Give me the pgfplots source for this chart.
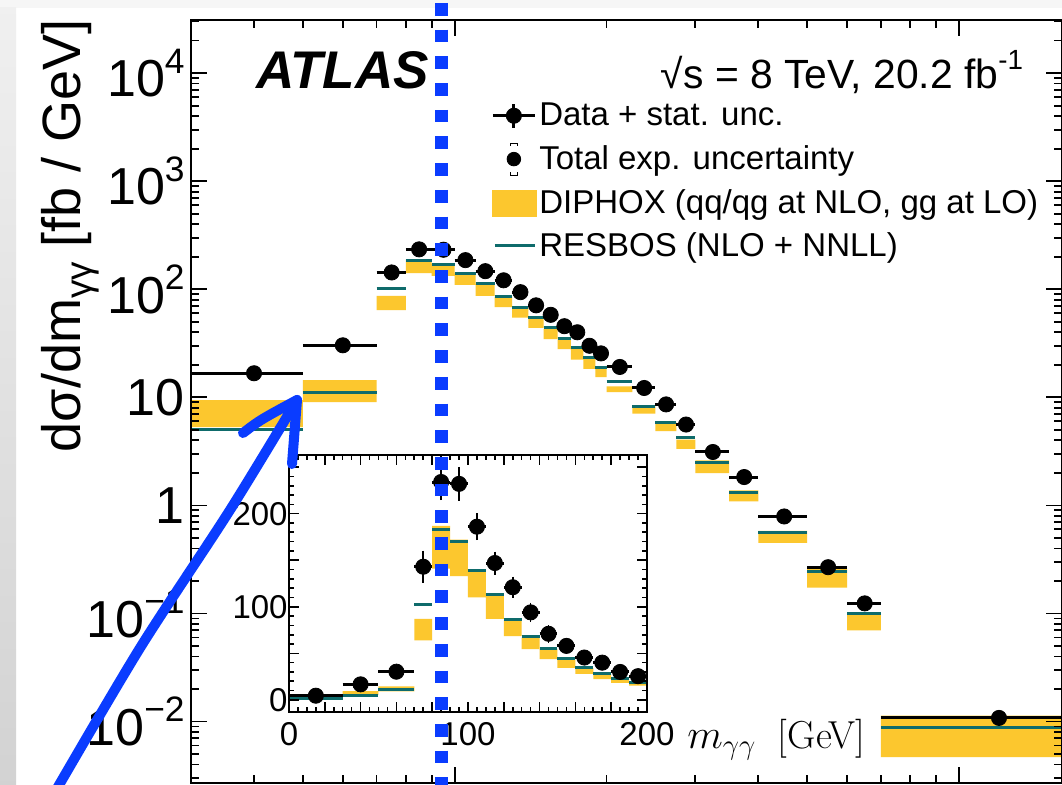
\documentclass[border=0pt]{standalone}
\usepackage{fontspec}
\setmainfont{Liberation Sans}
\usepackage{graphicx}
\usepackage{pgfplots}
\usepackage{pgfplotstable}
\pgfplotsset{compat=1.18}

\definecolor{dip}{HTML}{FCC72E}
\definecolor{res}{HTML}{0E6B6B}
\definecolor{ann}{HTML}{0A3CFF}
\newcommand\tsup[1]{\raisebox{0.45em}{\scalebox{0.68}{#1}}}
\newcommand\tsub[1]{\raisebox{-0.22em}{\scalebox{0.68}{#1}}}

% bins: edges, data, total unc., RESBOS
% last row only closes the step plots
\pgfplotstableread{
lo   hi   data   tot    res
0    30   4.5    0.5    2.0
30   50   16.7   1.2    5.0
50   70   30.3   2.2    11.05
70   80   143    12     102
80   90   234    14     183
90   100  232    13     170
100  110  186    9      139
110  120  147    7      113
120  130  121    6      86
130  140  94     5      68.5
140  150  71     4      55
150  160  58     3      44
160  170  45.5   2.5    34.7
170  180  40     2.2    28.8
180  190  30     1.7    23.3
190  200  25.5   1.5    19
200  225  19.1   1.0    13.9
225  250  12.2   0.7    8.3
250  275  8.6    0.5    5.87
275  300  5.6    0.35   4.24
300  350  3.12   0.2    2.47
350  400  1.83   0.12   1.33
400  500  0.79   0.06   0.566
500  600  0.268  0.025  0.245
600  700  0.124  0.013  0.101
700  1700 0.0108 0.0024 0.00875
1700 1700 0.0108 0      0.00875
}\bins

% DIPHOX uncertainty boxes, one per bin (corners, then a break)
\pgfplotstableread{
x y
0 2.5
30 2.5
30 4.5
0 4.5
nan nan
30 5.3
50 5.3
50 9.4
30 9.4
nan nan
50 9.05
70 9.05
70 14.4
50 14.4
nan nan
70 64
80 64
80 87
70 87
nan nan
80 141
90 141
90 187
80 187
nan nan
90 133
100 133
100 172
90 172
nan nan
100 110
110 110
110 140
100 140
nan nan
110 87
120 87
120 112
110 112
nan nan
120 68.4
130 68.4
130 85.5
120 85.5
nan nan
130 54.6
140 54.6
140 67
130 67
nan nan
140 43.9
150 43.9
150 54.5
140 54.5
nan nan
150 34.5
160 34.5
160 43
150 43
nan nan
160 28
170 28
170 34.2
160 34.2
nan nan
170 22.3
180 22.3
180 28
170 28
nan nan
180 18.3
190 18.3
190 22.8
180 22.8
nan nan
190 15.4
200 15.4
200 18.7
190 18.7
nan nan
200 11.2
225 11.2
225 12.6
200 12.6
nan nan
225 7.06
250 7.06
250 8.25
225 8.25
nan nan
250 4.88
275 4.88
275 5.87
250 5.87
nan nan
275 3.33
300 3.33
300 4.06
275 4.06
nan nan
300 1.99
350 1.99
350 2.61
300 2.61
nan nan
350 1.09
400 1.09
400 1.38
350 1.38
nan nan
400 0.45
500 0.45
500 0.58
400 0.58
nan nan
500 0.173
600 0.173
600 0.26
500 0.26
nan nan
600 0.0696
700 0.0696
700 0.103
600 0.103
nan nan
700 0.00468
1700 0.00468
1700 0.01137
700 0.01137
}\diphox

\begin{document}
\begin{tikzpicture}
\useasboundingbox (0,0) rectangle (531pt,392pt);
\clip (0,0) rectangle (531pt,392pt);
% screenshot frame
\fill[white] (0,0) rectangle (531pt,392pt);
\fill[gray!7] (0,388pt) rectangle (531pt,392pt);
\shade[top color=gray!12, bottom color=gray!35] (0,0) rectangle (8pt,388pt);

\begin{axis}[name=main, at={(95.5pt,0.5pt)}, anchor=south west, scale only axis,
  width=435.5pt, height=381.5pt,
  xmode=log, ymode=log, xmin=30, xmax=1600, ymin=2.7e-3, ymax=3.1e4,
  xtick={100,1000}, xticklabels={},
  minor xtick={40,50,60,70,80,90,200,300,400,500,600,700,800,900},
  ytick={0.01,0.1,1,10,100,1000,10000},
  yticklabels={10\tsup{−2},10\tsup{−1},1,10,10\tsup{2},10\tsup{3},10\tsup{4}},
  minor ytick={0.003,0.004,0.005,0.006,0.007,0.008,0.009,
    0.02,0.03,0.04,0.05,0.06,0.07,0.08,0.09,0.2,0.3,0.4,0.5,0.6,0.7,0.8,0.9,
    2,3,4,5,6,7,8,9,20,30,40,50,60,70,80,90,200,300,400,500,600,700,800,900,
    2000,3000,4000,5000,6000,7000,8000,9000,20000,30000},
  major tick length=8pt, minor tick length=4pt,
  tick style={black, line width=0.9pt}, axis line style={line width=1.2pt},
  yticklabel style={font=\fontsize{26}{28}\selectfont, inner sep=1pt, xshift=-2pt},
  axis on top,
  legend style={at={(0.3444,0.8945)}, anchor=north west, draw=none, fill=none,
    font=\fontsize{16.5}{18}\selectfont, row sep=6pt, inner sep=0pt,
    nodes={inner sep=1pt}},
  legend cell align=left,
]
\addplot[fill=dip, draw=none, forget plot, unbounded coords=jump,
  skip coords between index={0}{5}] table {\diphox};
\addplot[res, line width=1.5pt, jump mark left, forget plot,
  skip coords between index={0}{1}] table[x=lo, y=res] {\bins};
\addplot[black, line width=1.5pt, jump mark left, forget plot,
  skip coords between index={0}{1}] table[x=lo, y=data] {\bins};
\addplot[only marks, mark=*, mark size=3.8pt, black, forget plot,
  skip coords between index={0}{1}, skip coords between index={26}{27}]
  table[x expr={(\thisrow{lo}+\thisrow{hi})/2}, y=data] {\bins};

\addlegendimage{legend image code/.code={
  \draw[black, line width=1.5pt] (0pt,0pt) -- (21pt,0pt);
  \draw[black, line width=1.5pt] (10.5pt,-6pt) -- (10.5pt,6pt);
  \fill[black] (10.5pt,0pt) circle (3.8pt);}}
\addlegendentry{Data + stat. unc.}
\addlegendimage{legend image code/.code={
  \draw[black, line width=0.5pt] (8.8pt,6.5pt) -- (8.8pt,8pt) -- (12.2pt,8pt) -- (12.2pt,6.5pt);
  \draw[black, line width=0.5pt] (8.8pt,-6.5pt) -- (8.8pt,-8pt) -- (12.2pt,-8pt) -- (12.2pt,-6.5pt);
  \fill[black] (10.5pt,0pt) circle (3.4pt);}}
\addlegendentry{Total exp. uncertainty}
\addlegendimage{legend image code/.code={
  \fill[dip] (0pt,-6.5pt) rectangle (22pt,6.5pt);}}
\addlegendentry{DIPHOX (qq/qg at NLO, gg at LO)}
\addlegendimage{legend image code/.code={
  \draw[res, line width=1.5pt] (1pt,0pt) -- (21pt,0pt);}}
\addlegendentry{RESBOS (NLO + NNLL)}
\end{axis}

\begin{axis}[name=inset, at={(144.5pt,36pt)}, anchor=south west, scale only axis,
  width=179pt, height=128.5pt,
  xmin=0, xmax=200, ymin=-13, ymax=263,
  xtick={0,20,...,200}, xticklabels={0,,,,,100,,,,,200},
  ytick={0,50,...,250}, yticklabels={0,,100,,200,},
  minor x tick num=3, minor y tick num=4,
  major tick length=5pt, minor tick length=2.5pt,
  tick style={black, line width=0.8pt}, axis line style={line width=1.1pt},
  ticklabel style={font=\fontsize{16.5}{18}\selectfont},
  xticklabel style={inner sep=0pt, yshift=-5pt},
  yticklabel style={inner sep=0.5pt},
  axis background/.style={fill=white},
  axis on top,
]
\addplot[fill=dip, draw=none, unbounded coords=jump] table {\diphox};
\addplot[res, line width=1.5pt, jump mark left] table[x=lo, y=res] {\bins};
\addplot[black, line width=1.5pt, jump mark left] table[x=lo, y=data] {\bins};
\addplot[only marks, mark=*, mark size=3.8pt, black,
  skip coords between index={26}{27},
  error bars/.cd, y dir=both, y explicit,
  error bar style={line width=0.6pt, black, densely dashed}, error mark=-,
  error mark options={black, mark size=2.5pt, line width=0.8pt}]
  table[x expr={(\thisrow{lo}+\thisrow{hi})/2}, y=data, y error=tot] {\bins};
\end{axis}

% text
\node[anchor=base west, font=\fontsize{26.5}{27}\selectfont\bfseries\itshape]
  at (124.5pt,348pt) {ATLAS};
\node[anchor=base east, font=\fontsize{20.4}{21}\selectfont]
  at (515pt,348pt) {√s = 8 TeV, 20.2 fb\tsup{-1}};
\node[anchor=base east, rotate=90, font=\fontsize{27}{28}\selectfont]
  at (40pt,386pt) {dσ/dm\tsub{γγ} [fb / GeV]};
\node[anchor=base east, inner sep=0pt, font=\fontsize{19.5}{20}\selectfont]
  at (433pt,18pt) {$m_{\gamma\gamma}$\ \ {\fontfamily{lmr}\selectfont [GeV]}};

% annotations drawn over the chart
\draw[ann, line width=6.7pt, dash pattern=on 6.35pt off 7pt] (220.75pt,390.5pt) -- (220.75pt,-5pt);
\draw[ann, line width=5pt, line cap=round, line join=round]
  plot[smooth] coordinates {(27.5pt,-4pt) (70pt,68pt) (115pt,137pt) (148.5pt,192pt)};
\draw[ann, line width=5pt, line cap=round, line join=round]
  (121.5pt,175.5pt) .. controls (130pt,182pt) .. (148.5pt,192pt) -- (146pt,160pt);
\end{tikzpicture}
\end{document}
